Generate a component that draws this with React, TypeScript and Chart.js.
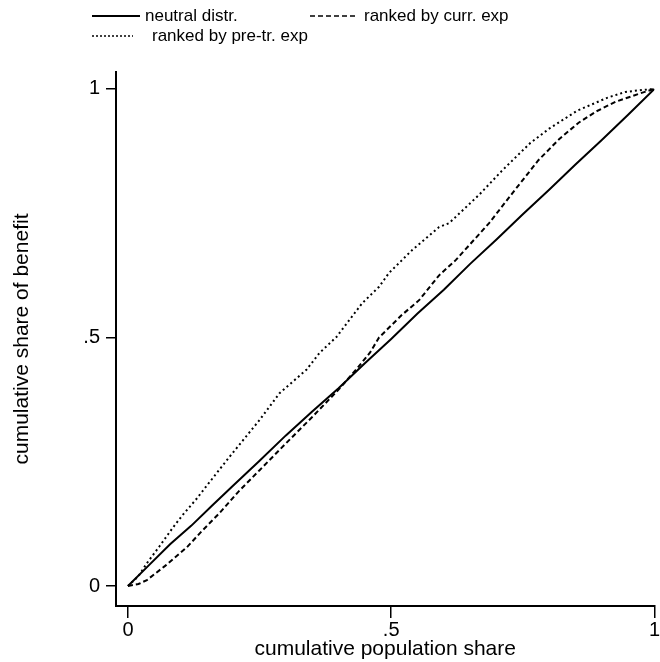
import React, { useEffect, useRef } from "react";
import { Chart, registerables } from "chart.js";

Chart.register(...registerables);

const neutralX = [0, 0.04, 0.08, 0.12, 0.16, 0.2, 0.25, 0.3, 0.35, 0.4, 0.45, 0.5, 0.55, 0.6, 0.65, 0.7, 0.75, 0.8, 0.85, 0.9, 0.95, 1];
const neutralY = [0, 0.042, 0.084, 0.121, 0.162, 0.202, 0.252, 0.303, 0.351, 0.398, 0.448, 0.497, 0.548, 0.596, 0.648, 0.697, 0.748, 0.797, 0.848, 0.897, 0.948, 1];

const currX = [0, 0.02, 0.036, 0.07, 0.112, 0.14, 0.174, 0.21, 0.25, 0.301, 0.35, 0.4, 0.434, 0.46, 0.477, 0.52, 0.553, 0.591, 0.623, 0.686, 0.73, 0.78, 0.82, 0.856, 0.89, 0.926, 0.97, 1];
const currY = [0, 0.004, 0.012, 0.04, 0.078, 0.11, 0.147, 0.19, 0.233, 0.288, 0.34, 0.395, 0.436, 0.47, 0.5, 0.545, 0.575, 0.625, 0.656, 0.73, 0.79, 0.857, 0.9, 0.932, 0.955, 0.974, 0.99, 1];

const preX = [0, 0.02, 0.036, 0.06, 0.085, 0.104, 0.13, 0.155, 0.193, 0.25, 0.288, 0.339, 0.364, 0.396, 0.445, 0.477, 0.496, 0.54, 0.591, 0.61, 0.667, 0.71, 0.764, 0.8, 0.853, 0.91, 0.945, 0.97, 1];
const preY = [0, 0.02, 0.046, 0.08, 0.117, 0.143, 0.175, 0.209, 0.26, 0.334, 0.388, 0.435, 0.469, 0.501, 0.569, 0.602, 0.63, 0.676, 0.722, 0.73, 0.787, 0.835, 0.891, 0.92, 0.956, 0.982, 0.994, 0.997, 1];

const tickValues = [0, 0.5, 1];
const tickLabel = (v: number) => (v === 0.5 ? ".5" : String(v));

const legendItems = [
  { label: "neutral distr.", dash: [] as number[], lineX: 92, lineW: 48, textX: 145, y: 16 },
  { label: "ranked by curr. exp", dash: [5, 3], lineX: 310, lineW: 48, textX: 364, y: 16 },
  { label: "ranked by pre-tr. exp", dash: [2, 2], lineX: 92, lineW: 41, textX: 152, y: 36 },
];

const FONT = "'Liberation Sans', Arial, sans-serif";

const legendPlugin = {
  id: "customLegend",
  afterDraw(chart: any) {
    const ctx = chart.ctx;
    ctx.save();
    ctx.fillStyle = "#000";
    ctx.strokeStyle = "#000";
    ctx.font = `17px ${FONT}`;
    ctx.textBaseline = "middle";
    ctx.textAlign = "left";
    for (const it of legendItems) {
      ctx.lineWidth = it.dash.length === 0 ? 2 : 1.5;
      ctx.setLineDash(it.dash);
      ctx.beginPath();
      ctx.moveTo(it.lineX, it.y);
      ctx.lineTo(it.lineX + it.lineW, it.y);
      ctx.stroke();
      ctx.setLineDash([]);
      ctx.fillText(it.label, it.textX, it.y);
    }
    ctx.restore();
  },
};

function toPts(xs: number[], ys: number[]) {
  return xs.map((x, i) => ({ x, y: ys[i] }));
}

export default function App() {
  const ref = useRef<HTMLCanvasElement | null>(null);
  useEffect(() => {
    if (!ref.current) return;
    const chart = new Chart(ref.current, {
      type: "line",
      data: {
        datasets: [
          { label: "neutral distr.", data: toPts(neutralX, neutralY), borderColor: "#000", borderWidth: 2, pointRadius: 0, tension: 0 },
          { label: "ranked by curr. exp", data: toPts(currX, currY), borderColor: "#000", borderWidth: 2, borderDash: [5, 3], pointRadius: 0, tension: 0 },
          { label: "ranked by pre-tr. exp", data: toPts(preX, preY), borderColor: "#000", borderWidth: 2, borderDash: [2, 3], pointRadius: 0, tension: 0 },
        ],
      },
      options: {
        responsive: false,
        animation: false,
        layout: { padding: { top: 72, right: 0, bottom: 0, left: 0 } },
        plugins: { legend: { display: false }, tooltip: { enabled: false }, title: { display: false } },
        scales: {
          x: {
            type: "linear",
            min: -0.0227,
            max: 1.0,
            afterBuildTicks: (s: any) => { s.ticks = tickValues.map((v) => ({ value: v })); },
            afterFit: (s: any) => { s.height = 56; },
            ticks: { callback: (v: any) => tickLabel(Number(v)), color: "#000", font: { size: 20, family: FONT }, padding: 0, maxRotation: 0 },
            grid: { drawOnChartArea: false, drawTicks: true, tickLength: 12, color: "#000", lineWidth: 1.5 },
            border: { display: true, color: "#000", width: 2 },
            title: { display: true, text: "cumulative population share", color: "#000", font: { size: 21, family: FONT }, padding: { top: 0, bottom: 0 } },
          },
          y: {
            type: "linear",
            min: -0.0402,
            max: 1.034,
            afterBuildTicks: (s: any) => { s.ticks = tickValues.map((v) => ({ value: v })); },
            afterFit: (s: any) => { s.width = 116; },
            ticks: { callback: (v: any) => tickLabel(Number(v)), color: "#000", font: { size: 20, family: FONT }, padding: 6 },
            grid: { drawOnChartArea: false, drawTicks: true, tickLength: 10, color: "#000", lineWidth: 1.5 },
            border: { display: true, color: "#000", width: 2 },
            title: { display: true, text: "cumulative share of benefit", color: "#000", font: { size: 21, family: FONT }, padding: { top: 10, bottom: 0 } },
          },
        },
      },
      plugins: [legendPlugin],
    } as any);
    return () => chart.destroy();
  }, []);
  return (
    <div style={{ position: "fixed", left: 0, top: 0, width: 660, height: 662, background: "#fff" }}>
      <canvas ref={ref} width={660} height={662} />
    </div>
  );
}
